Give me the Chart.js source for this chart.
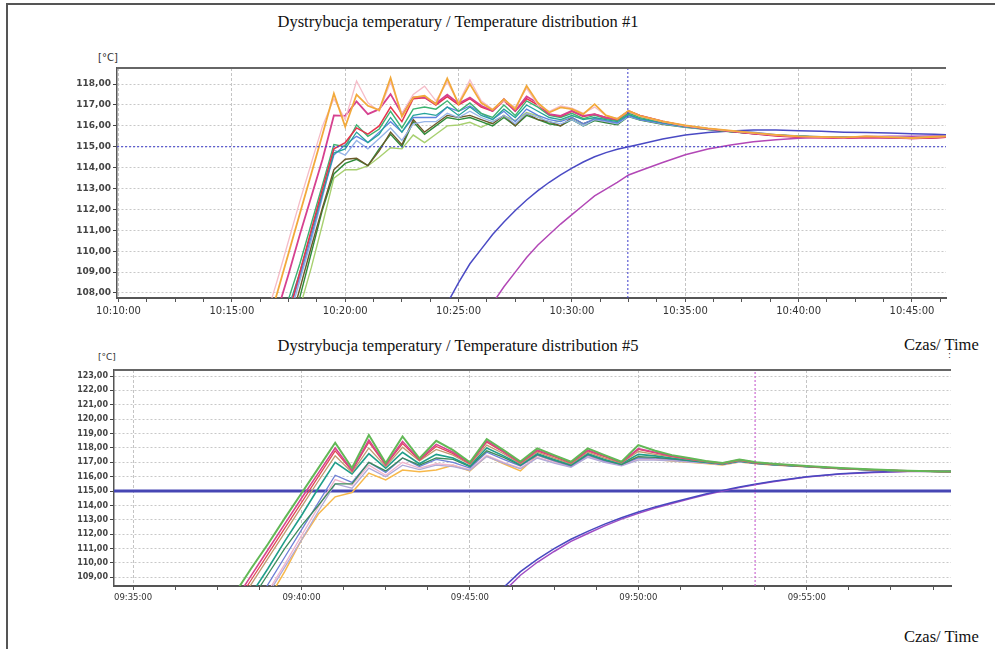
<!DOCTYPE html>
<html>
<head>
<meta charset="utf-8">
<script src="https://cdn.jsdelivr.net/npm/chart.js@4.4.1/dist/chart.umd.min.js"></script>
<style>
  html, body { margin:0; padding:0; background:#fff; }
  body { width:995px; height:649px; position:relative; overflow:hidden; }
  #frame { position:absolute; left:6px; top:3px; width:1000px; height:660px; border-left:2px solid #555; border-top:2px solid #555; }
  .title { position:absolute; left:0; width:916px; text-align:center; font:16.5px 'Liberation Serif', serif; color:#111; line-height:16px; }
  .axt { position:absolute; font:16.5px 'Liberation Serif', serif; color:#111; line-height:16px; }
  .unit { position:absolute; font-family:'DejaVu Sans', sans-serif; color:#333; }
  canvas { position:absolute; left:0; }
</style>
</head>
<body>
<div id="frame"></div>
<div class="title" style="top:14px">Dystrybucja temperatury / Temperature distribution #1</div>
<div class="unit" style="left:98px;top:52px;font-size:10px">[°C]</div>
<div style="position:absolute;left:0;top:60px;width:995px;height:262px"><canvas id="top"></canvas></div>

<div class="title" style="top:338px">Dystrybucja temperatury / Temperature distribution #5</div>
<div class="axt" style="left:904px;top:337px">Czas/ Time</div>
<div class="unit" style="left:948px;top:350px;font-size:9px">:</div>
<div class="unit" style="left:98px;top:352px;font-size:9px">[°C]</div>
<div style="position:absolute;left:0;top:362px;width:995px;height:250px"><canvas id="bottom"></canvas></div>
<div class="axt" style="left:904px;top:629px">Czas/ Time</div>

<script>
// ---- chart #1 data (30 s samples while oscillating, 1 min samples afterwards)
const timesTop = ['10:16:30','10:17:00','10:17:30','10:18:00','10:18:30','10:19:00','10:19:30','10:20:00','10:20:30','10:21:00',
  '10:21:30','10:22:00','10:22:30','10:23:00','10:23:30','10:24:00','10:24:30','10:25:00','10:25:30','10:26:00',
  '10:26:30','10:27:00','10:27:30','10:28:00','10:28:30','10:29:00','10:29:30','10:30:00','10:30:30','10:31:00',
  '10:31:30','10:32:00','10:32:30','10:33:00','10:34:00','10:35:00','10:36:00','10:37:00','10:38:00','10:39:00',
  '10:40:00','10:41:00','10:42:00','10:43:00','10:44:00','10:45:00','10:46:00','10:46:30'];
const orangeTop = [106.2,108.0,109.9,111.8,113.7,115.6,117.55,115.96,117.5,116.96,116.76,118.3,116.45,117.36,117.44,117.04,118.27,117.04,118.0,117.1,
  116.76,117.28,116.8,117.92,117.1,116.64,116.88,116.8,116.56,117.04,116.5,116.33,116.72,116.48,
  116.22,116.02,115.88,115.77,115.66,115.57,115.5,115.47,115.45,115.5,115.46,115.42,115.48,115.5];
const paleTop = [106.8,108.6,110.5,112.4,114.2,116.0,117.3,116.3,118.15,117.1,116.7,118.1,116.6,117.5,117.9,117.2,118.1,117.1,118.2,117.2,
  116.8,117.2,116.9,117.8,117.0,116.7,116.95,116.85,116.6,116.9,116.5,116.35,116.7,116.45,
  116.2,116.0,115.87,115.76,115.65,115.56,115.5,115.46,115.44,115.52,115.47,115.43,115.47,115.5];
const magentaTop = [105.2,107.1,108.9,110.8,112.6,114.4,116.5,116.48,117.17,116.56,116.8,117.52,116.56,117.36,117.36,117.07,117.49,117.07,117.36,116.96,
  116.72,117.28,116.72,117.41,117.09,116.56,116.48,116.72,116.48,116.56,116.4,116.33,116.69,116.48,
  116.2,116.0,115.86,115.75,115.63,115.54,115.47,115.44,115.42,115.44,115.43,115.4,115.44,115.46];
const redTop = [103.0,105.0,107.0,109.0,111.0,113.0,114.9,115.2,115.9,115.6,116.0,116.9,116.2,117.3,117.35,117.0,117.4,117.0,117.3,116.9,
  116.7,117.2,116.7,117.3,117.0,116.55,116.45,116.7,116.45,116.55,116.4,116.3,116.72,116.5,
  116.22,116.0,115.86,115.74,115.62,115.52,115.46,115.43,115.41,115.45,115.44,115.4,115.42,115.45];
const greenTop = [104.0,105.9,107.7,109.4,111.3,113.2,115.1,115.0,116.05,115.5,115.85,116.7,115.9,116.8,116.9,116.8,117.2,116.7,117.1,116.6,
  116.4,117.0,116.5,117.2,116.9,116.5,116.4,116.6,116.35,116.5,116.35,116.25,116.6,116.4,
  116.18,115.98,115.85,115.74,115.64,115.55,115.5,115.47,115.44,115.48,115.45,115.42,115.46,115.48];
const tealTop = [103.5,105.5,107.3,109.0,110.9,112.8,114.7,114.9,115.7,115.2,115.6,116.4,115.7,116.5,116.6,116.5,116.9,116.5,116.9,116.5,
  116.3,116.8,116.4,117.0,116.7,116.4,116.3,116.5,116.3,116.4,116.3,116.2,116.55,116.35,
  116.15,115.97,115.84,115.73,115.63,115.55,115.5,115.46,115.44,115.47,115.44,115.41,115.45,115.47];
const blueTop = [103.2,105.2,107.0,108.8,110.7,112.7,114.6,115.1,115.5,115.2,115.7,116.2,115.7,116.4,116.4,116.4,116.9,116.7,116.95,116.6,
  116.3,116.7,116.2,116.8,116.5,116.3,116.2,116.4,116.1,116.35,116.25,116.15,116.5,116.3,
  116.12,115.95,115.84,115.75,115.7,115.58,115.52,115.48,115.45,115.5,115.47,115.43,115.47,115.5];
const ltBlueTop = [102.8,104.8,106.7,108.6,110.5,112.6,114.85,114.6,115.3,114.9,115.4,115.9,115.3,116.1,116.2,116.2,116.6,116.4,116.7,116.4,
  116.2,116.5,116.1,116.6,116.4,116.2,116.1,116.3,116.0,116.3,116.2,116.1,116.45,116.3,
  116.1,115.94,115.83,115.74,115.65,115.56,115.5,115.47,115.44,115.49,115.46,115.42,115.46,115.48];
const oliveTop = [102.5,104.5,106.3,108.2,110.2,112.1,113.9,114.4,114.45,114.1,114.8,115.7,115.1,116.3,115.7,116.1,116.5,116.4,116.5,116.3,
  116.1,116.5,116.0,116.6,116.3,116.2,116.0,116.4,116.1,116.3,116.2,116.1,116.5,116.3,
  116.1,115.95,115.83,115.73,115.64,115.55,115.5,115.46,115.43,115.47,115.44,115.41,115.45,115.47];
const dkGreenTop = [102.0,104.0,105.9,107.8,109.9,112.0,113.7,114.2,114.4,114.1,114.9,115.6,115.0,116.2,115.6,116.0,116.4,116.3,116.4,116.2,
  116.0,116.4,116.0,116.5,116.3,116.1,116.0,116.3,116.0,116.25,116.15,116.05,116.45,116.28,
  116.08,115.93,115.82,115.72,115.63,115.55,115.5,115.46,115.43,115.47,115.44,115.41,115.44,115.46];
const ltGreenTop = [101.5,103.3,105.2,107.3,109.2,111.3,113.5,113.9,113.9,114.08,114.5,114.95,114.9,115.56,115.2,115.6,116.0,116.04,116.17,115.93,
  116.2,116.48,116.25,116.64,116.48,116.09,116.25,116.48,116.36,116.33,116.36,116.25,116.48,116.33,
  116.12,115.96,115.84,115.74,115.64,115.56,115.5,115.46,115.43,115.47,115.44,115.41,115.45,115.47];
const curveBlueTop = [null,null,null,null,null,null,null,null,null,null,null,null,null,null,null,106.4,107.5,108.5,109.4,110.1,
  110.8,111.4,111.95,112.45,112.9,113.3,113.65,113.98,114.27,114.52,114.72,114.88,115.0,115.12,
  115.37,115.56,115.68,115.76,115.8,115.8,115.77,115.74,115.7,115.68,115.66,115.62,115.6,115.58];
const curvePurpleTop = [null,null,null,null,null,null,null,null,null,null,null,null,null,null,null,null,null,null,null,106.6,
  107.5,108.3,109.0,109.7,110.3,110.8,111.3,111.75,112.2,112.65,112.97,113.3,113.65,113.85,
  114.25,114.62,114.89,115.08,115.24,115.33,115.41,115.45,115.47,115.48,115.5,115.5,115.52,115.52];
const setpointTop = 115;
const cursorTop = '10:32:28';
const xRangeTop = ['10:09:56', '10:46:30'];
const yRangeTop = [107.76, 118.77];

// ---- chart #5 data
const timesBottom = ['09:37:30','09:38:00','09:38:30','09:39:00','09:39:30','09:40:00','09:40:30','09:41:00','09:41:30','09:42:00',
  '09:42:30','09:43:00','09:43:30','09:44:00','09:44:30','09:45:00','09:45:30','09:46:00','09:46:30','09:47:00',
  '09:47:30','09:48:00','09:48:30','09:49:00','09:49:30','09:50:00','09:50:30','09:51:00','09:51:30','09:52:00',
  '09:52:30','09:53:00','09:53:30','09:54:00','09:55:00','09:56:00','09:57:00','09:58:00','09:59:00','09:59:30'];
const greenBottom = [106.0,107.8,109.6,111.3,113.1,114.85,116.6,118.36,116.6,118.9,116.95,118.8,117.27,118.5,117.85,117.0,118.62,117.85,117.05,117.97,
  117.5,117.04,117.97,117.5,117.04,118.2,117.8,117.5,117.3,117.1,116.95,117.2,117.0,116.9,116.75,116.6,116.5,116.42,116.36,116.35];
const magentaBottom = [105.5,107.3,109.1,110.9,112.7,114.5,116.25,118.0,116.45,118.55,116.85,118.45,117.2,118.25,117.7,116.95,118.5,117.75,117.0,117.85,
  117.45,117.0,117.85,117.45,117.0,117.95,117.7,117.45,117.25,117.08,116.93,117.18,116.98,116.88,116.73,116.58,116.48,116.41,116.36,116.35];
const redBottom = [105.2,107.0,108.8,110.6,112.4,114.2,116.0,117.8,116.4,118.4,116.8,118.3,117.15,118.1,117.6,116.9,118.4,117.7,116.95,117.8,
  117.4,116.95,117.8,117.4,116.98,117.9,117.65,117.42,117.22,117.06,116.92,117.15,116.97,116.87,116.72,116.58,116.48,116.41,116.36,116.35];
const tanBottom = [104.9,106.7,108.5,110.3,112.1,113.9,115.7,117.45,116.3,118.0,116.7,118.05,117.1,117.9,117.5,116.85,118.2,117.6,116.9,117.7,
  117.3,116.9,117.7,117.3,116.95,117.75,117.55,117.38,117.2,117.05,116.9,117.12,116.95,116.86,116.72,116.57,116.47,116.4,116.36,116.35];
const tealBottom = [104.2,106.0,107.8,109.6,111.5,113.3,115.2,117.0,116.2,117.6,116.6,117.7,116.9,117.55,117.3,116.75,118.0,117.45,116.85,117.6,
  117.2,116.85,117.6,117.2,116.9,117.55,117.45,117.3,117.15,117.02,116.88,117.1,116.94,116.85,116.71,116.57,116.47,116.4,116.36,116.35];
const dkGreenBottom = [103.8,105.6,107.4,109.2,111.0,112.6,114.0,115.5,115.5,117.0,116.4,117.3,116.8,117.3,117.2,116.7,117.8,117.35,116.8,117.55,
  117.15,116.8,117.55,117.15,116.85,117.4,117.35,117.25,117.12,117.0,116.87,117.08,116.93,116.84,116.7,116.56,116.46,116.4,116.36,116.35];
const blueBottom = [103.0,104.8,106.6,108.5,110.4,112.3,114.2,116.1,115.6,117.0,116.3,117.3,116.7,117.2,117.0,116.6,117.7,117.2,116.75,117.5,
  117.1,116.75,117.5,117.1,116.85,117.3,117.3,117.2,117.1,116.98,116.86,117.06,116.92,116.83,116.7,116.56,116.46,116.4,116.36,116.35];
const lavBottom = [102.2,104.0,105.9,107.8,109.7,111.6,113.6,115.5,115.2,116.6,116.0,116.8,116.5,116.8,116.7,116.45,117.4,116.95,116.55,117.3,
  116.95,116.65,117.35,117.0,116.75,117.15,117.15,117.1,117.02,116.94,116.84,117.04,116.91,116.82,116.69,116.55,116.46,116.4,116.36,116.35];
const pinkBottom = [102.5,104.3,106.1,108.0,109.9,111.9,113.9,115.8,115.4,116.8,116.1,117.0,116.6,116.9,116.8,116.5,117.5,117.0,116.6,117.35,
  117.0,116.7,117.4,117.05,116.8,117.2,117.2,117.15,117.05,116.96,116.85,117.05,116.92,116.83,116.7,116.56,116.46,116.4,116.36,116.35];
const orangeBottom = [101.8,103.6,105.5,107.4,109.4,111.6,113.4,114.6,114.9,116.25,115.77,116.46,116.35,116.46,116.8,116.4,117.44,116.9,116.4,117.5,
  117.1,116.74,117.39,117.15,116.93,117.39,117.2,117.1,117.0,116.92,116.82,117.02,116.9,116.82,116.69,116.55,116.46,116.4,116.36,116.35];
const curveBlueBottom = [null,null,null,null,null,null,null,null,null,null,null,null,null,null,null,null,106.9,108.3,109.4,110.25,
  111.0,111.65,112.2,112.7,113.15,113.55,113.9,114.2,114.5,114.8,115.05,115.28,115.5,115.68,116.0,116.2,116.32,116.38,116.38,116.38];
const curvePurpleBottom = [null,null,null,null,null,null,null,null,null,null,null,null,null,null,null,null,106.6,108.0,109.15,110.05,
  110.8,111.5,112.05,112.58,113.05,113.45,113.82,114.13,114.44,114.74,115.0,115.24,115.46,115.65,115.98,116.18,116.3,116.36,116.37,116.38];
const setpointBottom = 115;
const cursorBottom = '09:53:28';
const xRangeBottom = ['09:34:26', '09:59:17'];
const yRangeBottom = [108.4, 123.42];

// helpers
const sec = s => { const p = s.split(':').map(Number); return p[0]*3600 + p[1]*60 + p[2]; };
const pad = n => String(n).padStart(2,'0');
const fmtTime = v => pad(Math.floor(v/3600)) + ':' + pad(Math.floor(v%3600/60)) + ':' + pad(v%60);
const fmtTemp = v => v.toFixed(2).replace('.', ',');

const line = (times, vals, color, w) => ({
  data: vals.map((v,i)=>({x: sec(times[i]), y: v})),
  borderColor: color, borderWidth: w, pointRadius: 0, tension: 0, spanGaps: true, fill: false
});

// dark frame line over the plot's top edge
const frameTop = { id:'frameTop', afterDraw(c){
  const a = c.chartArea, ctx = c.ctx;
  ctx.save(); ctx.strokeStyle = '#666'; ctx.lineWidth = 2;
  ctx.beginPath(); ctx.moveTo(a.left, a.top); ctx.lineTo(a.right, a.top); ctx.stroke(); ctx.restore();
}};

function makeChart(id, sets, o){
  const xMin = sec(o.xRange[0]), xMax = sec(o.xRange[1]);
  return new Chart(document.getElementById(id), {
    type: 'line',
    data: { datasets: sets },
    options: {
      responsive: true, maintainAspectRatio: false, animation: false,
      layout: { padding: { left: 0, right: o.padRight, top: 8, bottom: 0 } },
      plugins: { legend: { display: false }, tooltip: { enabled: false } },
      scales: {
        x: {
          type: 'linear', min: xMin, max: xMax,
          afterBuildTicks: ax => { const t = []; for (let v = Math.ceil(ax.min/75)*75; v <= ax.max; v += 75) t.push({value: v}); ax.ticks = t; },
          afterFit: ax => { ax.height = o.xHeight; },
          ticks: { autoSkip: false, maxRotation: 0, minRotation: 0, padding: 3, color: '#333',
            font: { family: 'DejaVu Sans', size: o.xFont },
            callback: v => v % 300 === 0 ? fmtTime(v) : '' },
          grid: { color: c => (c.tick && c.tick.value % 300 === 0) ? '#c4c4c4' : 'rgba(0,0,0,0)',
            tickColor: '#555', tickLength: 4, lineWidth: 1 },
          border: { color: '#555', width: 2, dash: [3,2] }
        },
        y: {
          type: 'linear', min: o.yRange[0], max: o.yRange[1],
          afterBuildTicks: ax => { const t = []; for (let v = Math.ceil(ax.min); v <= ax.max; v++) t.push({value: v}); ax.ticks = t; },
          afterFit: ax => { ax.width = o.yWidth; },
          ticks: { padding: 2, color: '#444', font: { family: 'DejaVu Sans', size: o.yFont, weight: 'bold' }, callback: v => fmtTemp(v) },
          grid: { color: '#c8c8c8', tickColor: '#444', tickLength: 4, lineWidth: 1 },
          border: { color: '#555', width: 1.5, dash: [2,2] }
        }
      }
    },
    plugins: [frameTop]
  });
}

// chart #1
const xT = xRangeTop.map(sec);
makeChart('top', [
  { data: [{x: xT[0], y: setpointTop}, {x: xT[1], y: setpointTop}], borderColor: '#3a3acc', borderWidth: 1, borderDash: [2,2], pointRadius: 0 },
  { data: [{x: sec(cursorTop), y: yRangeTop[0]}, {x: sec(cursorTop), y: yRangeTop[1]}], borderColor: '#3a3acc', borderWidth: 1, borderDash: [2,2], pointRadius: 0 },
  line(timesTop, orangeTop, '#f2a93b', 1.8),
  line(timesTop, paleTop, '#f5bcc8', 1.3),
  line(timesTop, magentaTop, '#d6418f', 1.8),
  line(timesTop, redTop, '#e5344c', 1.5),
  line(timesTop, greenTop, '#3cb371', 1.4),
  line(timesTop, tealTop, '#25a39a', 1.3),
  line(timesTop, blueTop, '#5f83e0', 1.3),
  line(timesTop, ltBlueTop, '#96b4e8', 1.3),
  line(timesTop, oliveTop, '#6b5a2a', 1.4),
  line(timesTop, dkGreenTop, '#2e8b3a', 1.4),
  line(timesTop, ltGreenTop, '#a8d070', 1.4),
  line(timesTop, curveBlueTop, '#4a4ac4', 1.5),
  line(timesTop, curvePurpleTop, '#b247b6', 1.5)
], { xRange: xRangeTop, yRange: yRangeTop, padRight: 49, xHeight: 24, yWidth: 117, xFont: 10, yFont: 9 });

// chart #5
const xB = xRangeBottom.map(sec);
makeChart('bottom', [
  { data: [{x: sec(cursorBottom), y: yRangeBottom[0]}, {x: sec(cursorBottom), y: yRangeBottom[1]}], borderColor: '#c24bc8', borderWidth: 1, borderDash: [2,2], pointRadius: 0 },
  line(timesBottom, greenBottom, '#62b856', 2),
  line(timesBottom, magentaBottom, '#d8438f', 1.6),
  line(timesBottom, redBottom, '#e04a55', 1.3),
  line(timesBottom, tanBottom, '#c09a70', 1.3),
  line(timesBottom, tealBottom, '#1f9e89', 1.6),
  line(timesBottom, dkGreenBottom, '#3c8c5c', 1.3),
  line(timesBottom, blueBottom, '#6d7fd6', 1.3),
  line(timesBottom, lavBottom, '#b0a8d8', 1.3),
  line(timesBottom, pinkBottom, '#f0b4cc', 1.3),
  line(timesBottom, orangeBottom, '#f7b84a', 1.5),
  line(timesBottom, curveBlueBottom, '#4848c0', 1.5),
  line(timesBottom, curvePurpleBottom, '#a04cc4', 1.5),
  { data: [{x: xB[0], y: setpointBottom}, {x: xB[1], y: setpointBottom}], borderColor: '#4646b4', borderWidth: 3, pointRadius: 0 }
], { xRange: xRangeBottom, yRange: yRangeBottom, padRight: 44, xHeight: 26, yWidth: 114, xFont: 8.5, yFont: 8 });
</script>
</body>
</html>
